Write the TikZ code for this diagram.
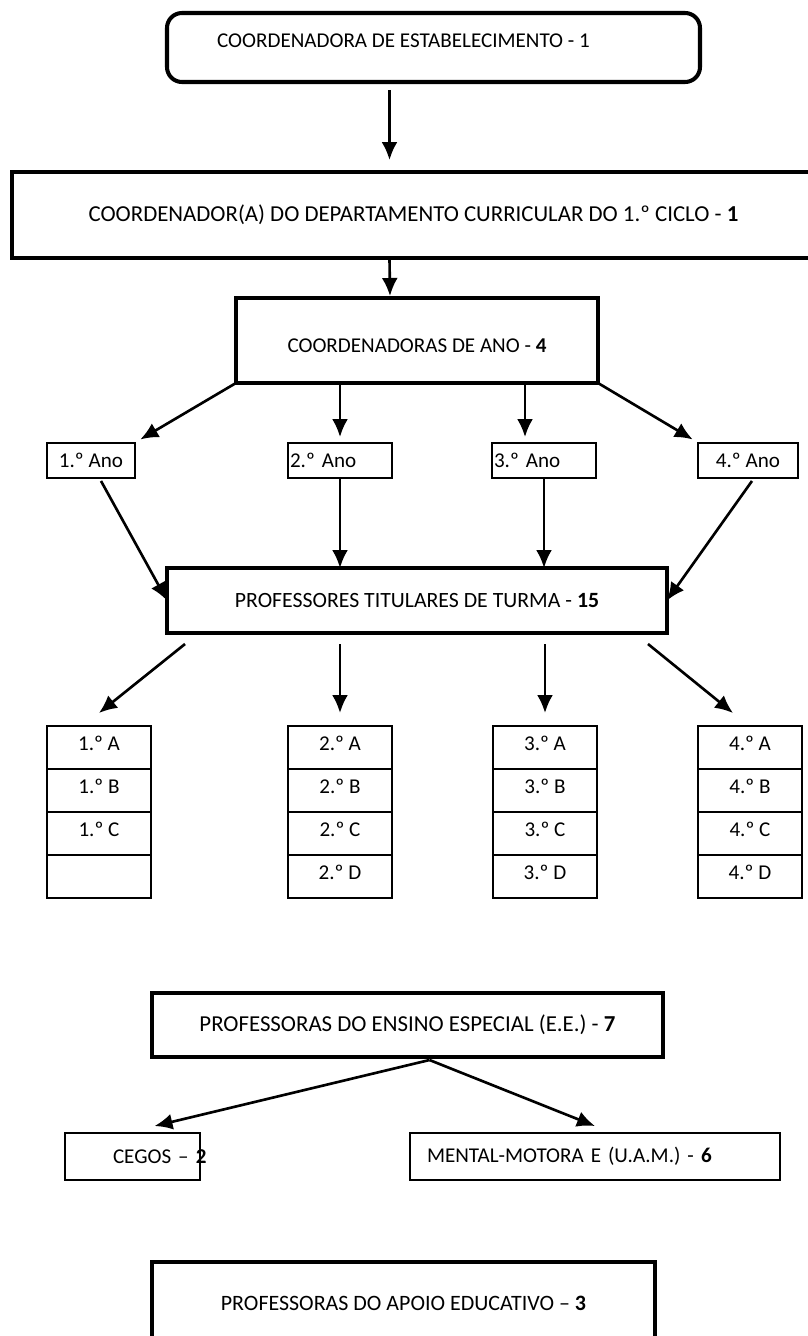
\documentclass[tikz,border=0pt]{standalone}
\usepackage{fontspec}
\setmainfont{Carlito}
\usetikzlibrary{arrows.meta,positioning,calc}

\newcommand{\unitpx}{0.02cm}

\tikzset{
  every node/.style={font=\fontsize{12}{14}\selectfont},
  thickbox/.style={draw, line width=2.8pt, inner sep=0pt, outer sep=0pt},
  anobox/.style={draw, line width=1.1pt, minimum height=35*\unitpx, inner sep=2*\unitpx},
  cell/.style={draw, line width=0.8pt, outer sep=0pt, inner sep=0pt,
    minimum width=104*\unitpx, minimum height=43*\unitpx, text height=9pt, text depth=6pt},
  thinbox/.style={draw, line width=1.1pt, minimum height=47*\unitpx, align=left},
  arr/.style={->, line width=1.5pt},
}

\begin{document}
\begin{tikzpicture}[x=\unitpx, y=-\unitpx, >={Latex[length=0.36cm,width=0.32cm]}]
    \path[use as bounding box, clip] (0,0) rectangle (808,1336);

    % chain of coordinators
    \node[thickbox, line width=2.3pt, rounded corners=15*\unitpx, minimum width=533*\unitpx,
      minimum height=69*\unitpx, text height=8pt, text depth=8pt] (top) at (433.5,47.5)
      {\hspace*{-1.2cm}COORDENADORA DE ESTABELECIMENTO - 1};
    \node[thickbox, minimum width=803*\unitpx, minimum height=86*\unitpx,
      font=\fontsize{13}{15}\selectfont] (cdc) at (413.5,215)
      {COORDENADOR(A) DO DEPARTAMENTO CURRICULAR DO 1.º CICLO - \textbf{1}};
    \node[thickbox, minimum width=362*\unitpx, minimum height=85*\unitpx,
      text height=14pt, text depth=0pt] (cano) at (417,340.5) {COORDENADORAS DE ANO - \textbf{4}};

    % years
    \node[anobox, minimum width=88*\unitpx] (y1) at (91,460.5) {1.º Ano};
    \node[anobox, text width=100*\unitpx, align=left] (y2) at (340,460.5) {2.º Ano};
    \node[anobox, text width=100*\unitpx, align=left] (y3) at (544,460.5) {3.º Ano};
    \node[anobox, minimum width=100*\unitpx] (y4) at (748,460.5) {4.º Ano};

    \node[thickbox, minimum width=500*\unitpx, minimum height=65*\unitpx,
      font=\fontsize{12.4}{14}\selectfont] (ptt) at (417,600.5)
      {PROFESSORES TITULARES DE TURMA - \textbf{15}};

    % classes
    \foreach \c/\x in {1/99, 2/340, 3/545, 4/750} {
      \node[cell] (t\c-a) at (\x,747.5) {\c.º A};
      \node[cell, below=0pt of t\c-a] (t\c-b) {\c.º B};
      \node[cell, below=0pt of t\c-b] (t\c-c) {\c.º C};
    }
    \node[cell, below=0pt of t1-c] (t1-d) {};
    \foreach \c in {2,3,4}
      \node[cell, below=0pt of t\c-c] (t\c-d) {\c.º D};

    % special education
    \node[thickbox, minimum width=511*\unitpx, minimum height=64*\unitpx,
      font=\fontsize{13}{15}\selectfont] (pee) at (407.5,1025)
      {PROFESSORAS DO ENSINO ESPECIAL (E.E.) - \textbf{7}};
    \node[thinbox, inner xsep=48*\unitpx, text width=39*\unitpx] (cegos) at (132.5,1156.5)
      {\mbox{CEGOS – \textbf{2}}};
    \node[thinbox, inner xsep=17*\unitpx, text width=336*\unitpx] (mental) at (595,1156.5)
      {MENTAL-MOTORA E (U.A.M.) - \textbf{6}};

    \node[thickbox, minimum width=503*\unitpx, minimum height=83*\unitpx,
      font=\fontsize{12.5}{15}\selectfont] (apoio) at (403.5,1303.5)
      {PROFESSORAS DO APOIO EDUCATIVO – \textbf{3}};

    \path[arr]
    ($(top.south)+(-44,8)$) edge ($(cdc.north)+(-24,-12)$)
    ($(cdc.south)+(-24,0)$) edge ($(cano.north)+(-27,-2)$)
    (cano.south west) edge [shorten >=5*\unitpx] (y1.north east)
    (y2.north |- cano.south) edge [shorten >=5*\unitpx] (y2.north)
    ($(cano.south)+(108,0)$) edge ($(y3.north)+(-19,-5)$)
    (cano.south east) edge [shorten >=5*\unitpx] (y4.north west)
    ($(y1.south)+(10,2)$) edge (ptt.west)
    (y2.south) edge (y2.south |- ptt.north)
    (y3.south) edge (y3.south |- ptt.north)
    ($(y4.south)+(4,2)$) edge (ptt.east)
    ($(ptt.south west)+(18,11)$) edge ($(t1-a.north)+(0,-13)$)
    ($(ptt.south -| t2-a)+(0,11)$) edge ($(t2-a.north)+(0,-13)$)
    ($(ptt.south -| t3-a)+(0,11)$) edge ($(t3-a.north)+(0,-13)$)
    ($(ptt.south east)+(-19,11)$) edge ($(t4-a.north)+(-17,-13)$)
    ($(pee.south)+(22,3)$) edge ($(cegos.north)+(22,-6)$)
    ($(pee.south)+(22,3)$) edge ($(mental.north)+(0,-6)$)
    ;
\end{tikzpicture}
\end{document}
